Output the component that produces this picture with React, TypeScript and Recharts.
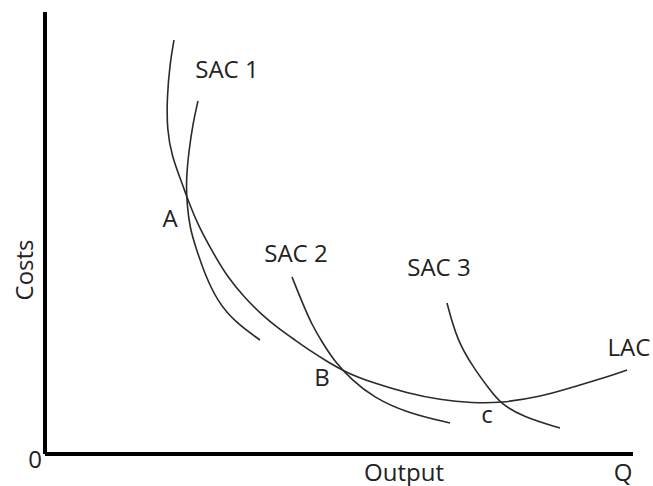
import React from "react";
import { LineChart, Line, XAxis, YAxis, ReferenceLine, ReferenceDot } from "recharts";

// Long-run average cost curve (output, cost)
const lacOutput = [129, 125, 122, 122, 127, 137, 144, 153, 167, 183, 200, 217, 233, 250, 267, 283, 300, 328, 362, 395, 428, 455, 495, 528, 562, 582];
const lacCost = [414, 391, 357, 324, 297, 271, 251, 229, 203, 176, 156, 139, 126, 114, 102, 92, 82, 71, 61, 54, 51, 51, 57, 67, 77, 84];

// Short-run average cost curves
const sac1Output = [153, 148, 144, 141, 142, 145, 150, 160, 173, 190, 215];
const sac1Cost = [353, 331, 304, 274, 249, 226, 209, 179, 152, 132, 114];

const sac2Output = [247, 257, 267, 277, 290, 307, 328, 362, 405];
const sac2Cost = [177, 152, 129, 112, 92, 74, 57, 41, 31];

const sac3Output = [402, 412, 428, 445, 455, 478, 515];
const sac3Cost = [151, 114, 87, 64, 51, 37, 26];

// Annotation labels
const labelTexts = ["SAC 1", "A", "SAC 2", "B", "SAC 3", "LAC", "c", "Output", "Q", "0", "Costs"];
const labelX = [182, 125, 251, 277, 394, 584, 442, 359, 578, -10, -22];
const labelY = [386, 237, 202, 78, 188, 108, 41, -17, -17, -4, 184];
const labelRotate = [0, 0, 0, 0, 0, 0, 0, 0, 0, 0, -90];

const toPts = (xs: number[], ys: number[]) => xs.map((x, i) => ({ x, y: ys[i] }));

const lac = toPts(lacOutput, lacCost);
const sac1 = toPts(sac1Output, sac1Cost);
const sac2 = toPts(sac2Output, sac2Cost);
const sac3 = toPts(sac3Output, sac3Cost);

const FONT = "'Open Sans', 'Liberation Sans', sans-serif";
const CURVE = "#2a2a2a";

export default function App() {
  return (
    <div style={{ position: "absolute", left: 0, top: 0, width: 653, height: 486, background: "#fff" }}>
      <LineChart width={653} height={486} margin={{ top: 12, left: 45, right: 20, bottom: 32 }}>
        <XAxis type="number" dataKey="x" domain={[0, 588]} hide allowDataOverflow />
        <YAxis type="number" dataKey="y" domain={[0, 442]} hide allowDataOverflow />
        <ReferenceLine x={0} stroke="#000" strokeWidth={4} />
        <ReferenceLine y={0} stroke="#000" strokeWidth={4} />
        <Line data={lac} dataKey="y" type="basis" dot={false} stroke={CURVE} strokeWidth={1.6} isAnimationActive={false} />
        <Line data={sac1} dataKey="y" type="basis" dot={false} stroke={CURVE} strokeWidth={1.6} isAnimationActive={false} />
        <Line data={sac2} dataKey="y" type="basis" dot={false} stroke={CURVE} strokeWidth={1.6} isAnimationActive={false} />
        <Line data={sac3} dataKey="y" type="basis" dot={false} stroke={CURVE} strokeWidth={1.6} isAnimationActive={false} />
        {labelTexts.map((t, i) => (
          <ReferenceDot
            key={t}
            x={labelX[i]}
            y={labelY[i]}
            r={0}
            ifOverflow="visible"
            shape={(p: any) => (
              <text
                x={p.cx}
                y={p.cy}
                textAnchor="middle"
                dominantBaseline="central"
                fontFamily={FONT}
                fontSize={24}
                fill="#222"
                transform={labelRotate[i] ? `rotate(${labelRotate[i]} ${p.cx} ${p.cy})` : undefined}
              >
                {t}
              </text>
            )}
          />
        ))}
      </LineChart>
    </div>
  );
}
